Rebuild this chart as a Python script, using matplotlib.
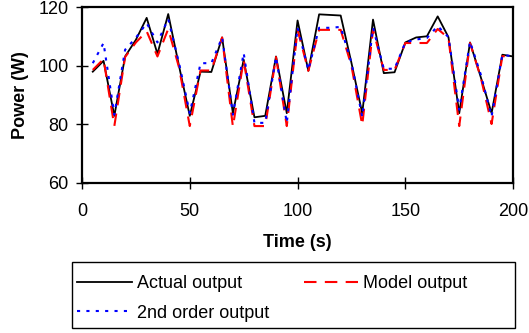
import numpy as np
import matplotlib.pyplot as plt
from matplotlib.patches import Rectangle

plt.rcParams['font.family'] = ['Liberation Sans', 'DejaVu Sans']

# time in seconds, one sample every 5 s
t = np.arange(5, 205, 5)

actual = [98.0, 101.7, 82.9, 103.2, 108.9, 116.4, 104.1, 117.7, 100.0, 82.9,
          98.0, 97.9, 109.7, 83.8, 102.1, 82.4, 82.9, 103.2, 83.8, 115.5,
          98.3, 117.6, 117.4, 117.2, 101.0, 83.8, 115.8, 97.5, 97.8, 108.0,
          109.7, 110.1, 116.9, 109.8, 83.8, 108.0, 96.1, 83.8, 103.8, 103.2]

model = [98.6, 102.3, 79.4, 103.0, 108.0, 111.8, 103.2, 112.6, 99.5, 79.4,
         98.4, 98.4, 109.7, 79.2, 102.0, 79.4, 79.4, 103.0, 79.4, 112.3,
         98.3, 112.3, 112.3, 112.3, 100.0, 79.7, 112.3, 98.6, 98.6, 107.8,
         107.8, 107.8, 112.6, 109.5, 79.4, 107.8, 96.0, 80.1, 103.3, 103.2]

second = [100.9, 107.8, 83.3, 105.5, 109.6, 114.6, 108.0, 116.0, 101.0, 83.8,
          100.9, 100.9, 109.7, 83.3, 104.4, 80.5, 80.5, 103.0, 80.5, 113.0,
          98.6, 113.0, 113.0, 113.3, 101.0, 82.6, 113.0, 99.0, 99.0, 108.0,
          109.0, 109.5, 113.6, 109.8, 85.0, 108.3, 97.0, 82.7, 103.8, 103.2]

W, H = 529, 333
fig = plt.figure(figsize=(W / 100, H / 100), dpi=100)
ax = fig.add_axes([0.155, 0.451, 0.815, 0.527])

l1, = ax.plot(t, actual, color='black', lw=1.3, label='Actual output')
l2, = ax.plot(t, model, color='red', lw=1.5, dashes=(6, 4), label='Model output')
l3, = ax.plot(t, second, color='blue', lw=1.5, dashes=(1.5, 3), label='2nd order output')

ax.set_xlim(0, 200)
ax.set_ylim(60, 120)
ax.set_xticks([0, 50, 100, 150, 200])
ax.set_yticks([60, 80, 100, 120])
ax.tick_params(direction='inout', length=9, width=1, labelsize=13, pad=5)
ax.tick_params(axis='x', pad=10)
for s in ax.spines.values():
    s.set_linewidth(1.6)

ax.set_xlabel('Time (s)', fontsize=13, fontweight='bold', labelpad=10)
ax.set_ylabel('Power (W)', fontsize=13, fontweight='bold', labelpad=7)

# legend entries without frame, box drawn separately to match the wide frame
leg = fig.legend([l1, l3, l2], ['Actual output', '2nd order output', 'Model output'],
                 ncol=2, loc='upper left', bbox_to_anchor=(72 / W, 1 - 270 / H),
                 fontsize=13, frameon=False,
                 handlelength=3.0, handletextpad=0.3, columnspacing=1.9,
                 borderaxespad=0, borderpad=0.3, labelspacing=0.67)
fig.patches.append(Rectangle((72 / W, 1 - 328 / H), 443 / W, 66 / H,
                             transform=fig.transFigure, fill=False,
                             edgecolor='black', lw=1.0))

fig.savefig('out.png', dpi=100)
